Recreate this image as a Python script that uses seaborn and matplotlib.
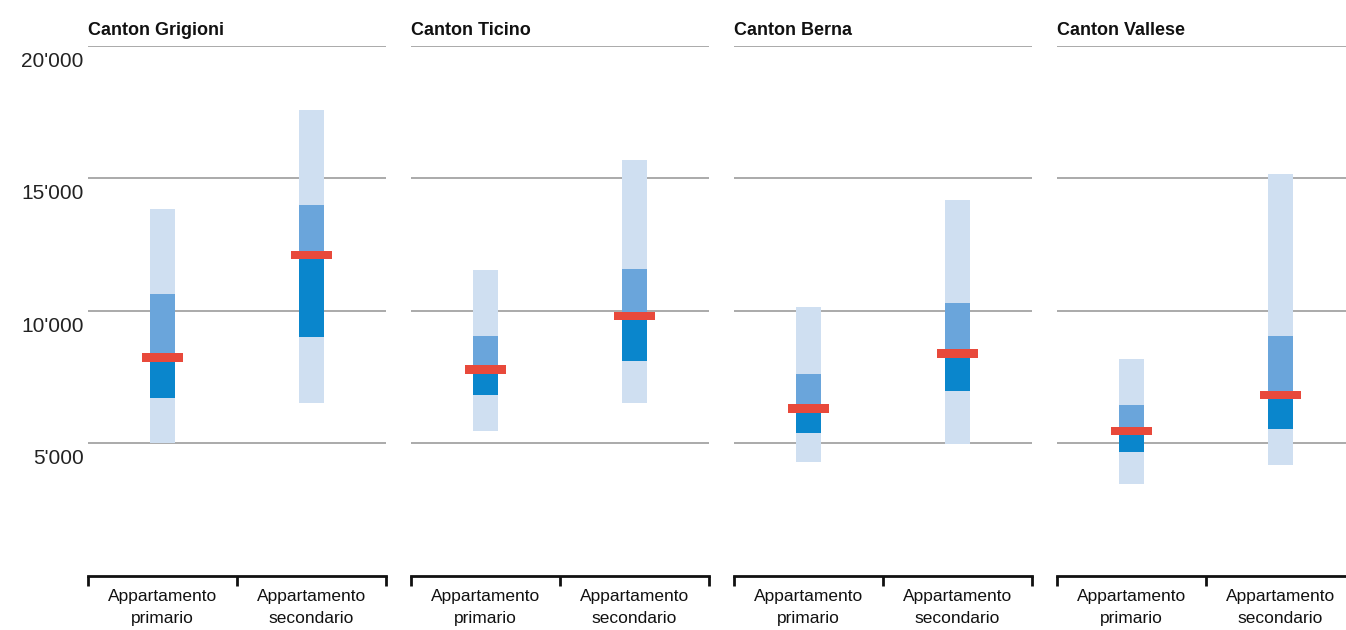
import matplotlib
matplotlib.use("Agg")
import matplotlib.pyplot as plt
from matplotlib.transforms import ScaledTranslation, blended_transform_factory
import seaborn as sns
import pandas as pd

# ---- data (CHF) ----
cantons = ["Canton Grigioni", "Canton Ticino", "Canton Berna", "Canton Vallese"]
categories = ["Appartamento\nprimario", "Appartamento\nsecondario"]

val_min = [[5000, 6520], [5470, 6500], [4300, 4980], [3440, 4170]]
val_max = [[13860, 17600], [11530, 15700], [10140, 14200], [8160, 15150]]
q_low = [[6690, 9010], [6810, 8100], [5400, 6980], [4650, 5520]]
median = [[8240, 12100], [7780, 9800], [6310, 8390], [5450, 6810]]
q_high = [[10620, 13990], [9050, 11590], [7600, 10310], [6430, 9050]]

yticks = [5000, 10000, 15000, 20000]
ytick_labels = ["5'000", "10'000", "15'000", "20'000"]

# ---- style ----
sns.set_theme(style="white")
plt.rcParams["font.family"] = ["Liberation Sans", "DejaVu Sans"]

C_LIGHT = "#cfdff1"
C_MED = "#6aa5db"
C_DARK = "#0a86cc"
C_RED = "#e8493b"
C_GRID = "#9c9c9c"

W, H, DPI = 1346, 630, 100
fig = plt.figure(figsize=(W / DPI, H / DPI), dpi=DPI)

ax_w = 298 / W
ax_bottom = (H - 575.5) / H
ax_top = (H - 46) / H
marker_h = 320

for i, canton in enumerate(cantons):
    left = (88 + i * 323) / W
    ax = fig.add_axes([left, ax_bottom, ax_w, ax_top - ax_bottom])

    df = pd.DataFrame({
        "cat": categories,
        "lo": val_min[i], "hi": val_max[i],
        "ql": q_low[i], "med": median[i], "qh": q_high[i],
    })
    df["range_h"] = df["hi"] - df["lo"]
    df["upper_h"] = df["qh"] - df["med"]
    df["lower_h"] = df["med"] - df["ql"]
    df["mark_h"] = marker_h
    df["mark_b"] = df["med"] - marker_h / 2

    common = dict(x="cat", order=categories, saturation=1, ax=ax,
                  linewidth=0, edgecolor="none")
    sns.barplot(data=df, y="range_h", bottom=df["lo"].tolist(),
                color=C_LIGHT, width=0.17, zorder=2, **common)
    sns.barplot(data=df, y="upper_h", bottom=df["med"].tolist(),
                color=C_MED, width=0.17, zorder=3, **common)
    sns.barplot(data=df, y="lower_h", bottom=df["ql"].tolist(),
                color=C_DARK, width=0.17, zorder=3, **common)
    sns.barplot(data=df, y="mark_h", bottom=df["mark_b"].tolist(),
                color=C_RED, width=0.28, zorder=4, **common)

    ax.set_xlim(-0.5, 1.5)
    ax.set_ylim(0, 20000)
    ax.set_xlabel("")
    ax.set_ylabel("")

    for s in ["top", "left", "right"]:
        ax.spines[s].set_visible(False)
    ax.spines["bottom"].set_color("#111111")
    ax.spines["bottom"].set_linewidth(2)

    # horizontal grid
    ax.set_yticks(yticks)
    ax.set_yticklabels([])
    ax.yaxis.grid(True, color=C_GRID, linewidth=1.2, zorder=0)
    ax.set_axisbelow(True)
    ax.tick_params(axis="y", length=0)
    if i == 0:
        tr = blended_transform_factory(ax.transAxes, ax.transData) + \
            ScaledTranslation(-3 / 72, -11 / 72, fig.dpi_scale_trans)
        for v, lab in zip(yticks, ytick_labels):
            ax.text(0, v, lab, transform=tr, ha="right", va="center",
                    fontsize=15, color="#222222")

    # x axis bracket
    ax.set_xticks([0, 1])
    ax.set_xticklabels(categories, fontsize=12.5, color="#111111",
                       linespacing=1.55)
    ax.set_xticks([-0.5, 0.5, 1.5], minor=True)
    ax.tick_params(axis="x", which="major", length=0, pad=10)
    ax.tick_params(axis="x", which="minor", length=7, width=2,
                   color="#111111", direction="out", bottom=True)

    ttr = ax.transAxes + ScaledTranslation(0, 5 / 72, fig.dpi_scale_trans)
    ax.text(0, 1.0, canton, transform=ttr, ha="left", va="bottom",
            fontsize=13, fontweight="bold", color="#111111")

fig.savefig("out.png", dpi=DPI)
